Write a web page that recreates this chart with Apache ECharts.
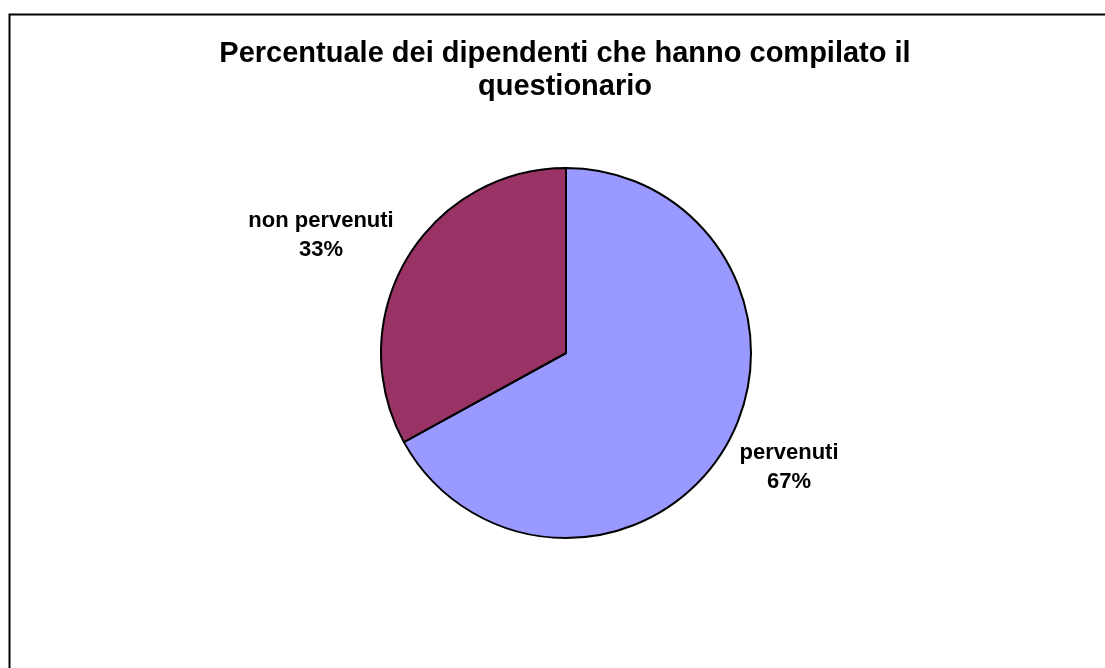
<!DOCTYPE html>
<html>
<head>
<meta charset="utf-8">
<script src="https://cdn.jsdelivr.net/npm/echarts@6/dist/echarts.min.js"></script>
<style>
  html, body { margin: 0; padding: 0; background: #fff; }
  #chart { width: 1105px; height: 668px; }
</style>
</head>
<body>
<div id="chart"></div>
<script>
const categories = ['pervenuti', 'non pervenuti']
const values = [67, 33]
const colors = ['#9999FF', '#993366']

// where Excel put the data labels (centre of each label block)
const labelSpots = [[789, 467], [321, 235]]

const chart = echarts.init(document.getElementById('chart'))

const option = {
  backgroundColor: '#fff',
  animation: false,
  graphic: [
    {
      type: 'rect',
      shape: { x: 9.5, y: 14.5, width: 1120, height: 700 },
      style: { fill: 'none', stroke: '#000', lineWidth: 2 }
    }
  ],
  title: {
    text: 'Percentuale dei dipendenti che hanno compilato il\nquestionario',
    left: 560,
    top: 32,
    textAlign: 'center',
    textStyle: {
      fontFamily: 'Liberation Sans, Arial, sans-serif',
      fontSize: 29,
      fontWeight: 'bold',
      color: '#000',
      lineHeight: 33
    }
  },
  series: [
    {
      type: 'pie',
      center: [566, 353],
      radius: 185,
      startAngle: 90,
      clockwise: true,
      silent: true,
      data: categories.map((name, i) => ({
        name,
        value: values[i],
        itemStyle: { color: colors[i] }
      })),
      itemStyle: { borderColor: '#000', borderWidth: 2 },
      label: {
        show: true,
        position: 'outside',
        formatter: p => p.name + '\n' + Math.round(p.percent) + '%',
        fontFamily: 'Liberation Sans, Arial, sans-serif',
        fontSize: 22,
        fontWeight: 'bold',
        color: '#000',
        lineHeight: 29,
        align: 'center'
      },
      labelLine: { show: false },
      labelLayout: p => ({
        x: labelSpots[p.dataIndex][0],
        y: labelSpots[p.dataIndex][1],
        align: 'center',
        verticalAlign: 'middle'
      })
    }
  ]
}

chart.setOption(option)
</script>
</body>
</html>
